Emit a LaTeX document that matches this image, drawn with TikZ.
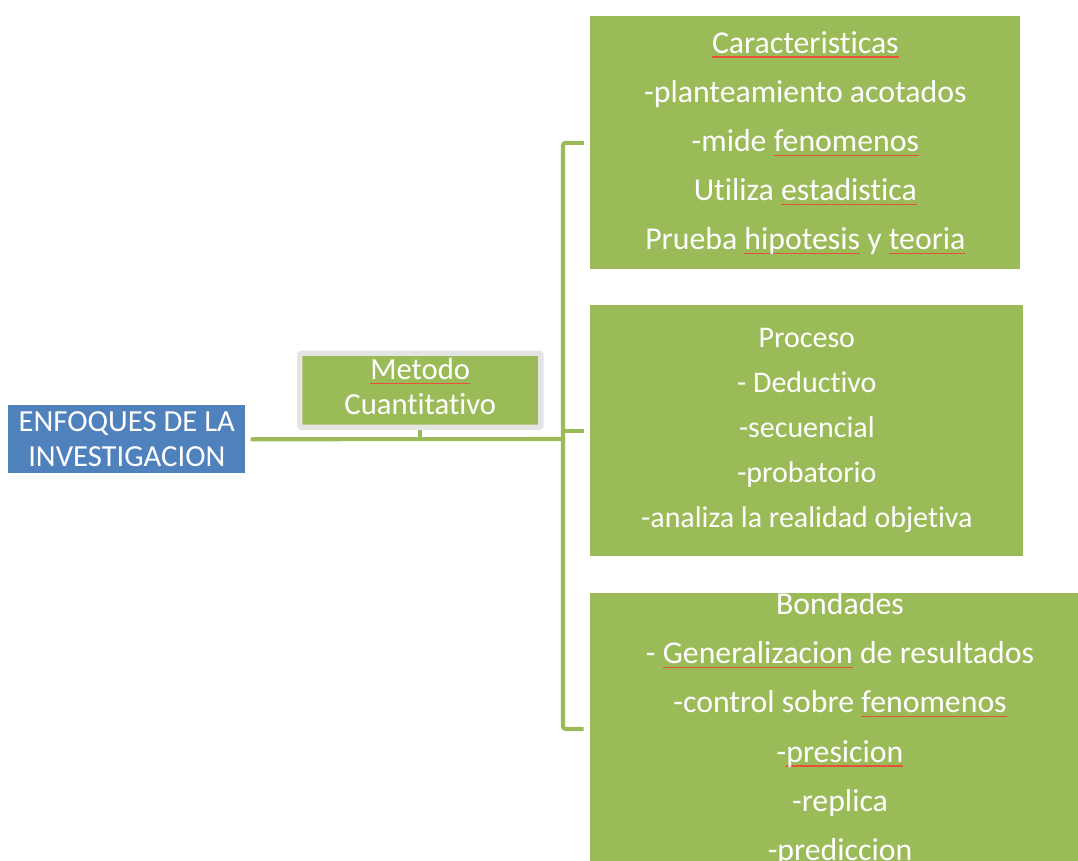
\documentclass[tikz,border=0pt]{standalone}
\usepackage{fontspec}
\setmainfont{Carlito}[Ligatures=NoCommon]
\usepackage{tikz}
\usetikzlibrary{calc,positioning}
\usepackage{xcolor}
\definecolor{leaf}{HTML}{9BBB59}
\definecolor{sky}{HTML}{4F81BD}
\definecolor{frame}{HTML}{E4E4E4}
\definecolor{typored}{HTML}{E8503A}
\newlength{\typolen}
\newcommand{\typo}[1]{\settowidth{\typolen}{#1}\rlap{\textcolor{typored}{\rule[-0.3ex]{\typolen}{0.8pt}}}#1}

\begin{document}
\begin{tikzpicture}[
  x=0.025cm, y=-0.025cm,
  rootnode/.style={
    rectangle,
    fill=sky,
    inner sep=0pt,
    minimum width=5.925cm,
    minimum height=1.7cm,
    align=center,
    font=\fontsize{21.8}{24.9}\selectfont\color{white}
  },
  midnode/.style={
    rectangle,
    fill=leaf,
    draw=frame,
    line width=3.9pt,
    rounded corners=1pt,
    inner sep=0pt,
    minimum width=6.025cm,
    minimum height=1.85cm,
    text depth=0.2cm,
    align=center,
    font=\fontsize{21.8}{24.9}\selectfont\color{white}
  },
  leafnode/.style={
    rectangle,
    fill=leaf,
    inner sep=0pt,
    align=center,
    font=\fontsize{22.6}{34.9}\selectfont\color{white}
  },
  linkline/.style={
    leaf,
    line width=2.9pt
  }
  ]
  \useasboundingbox (0,0) rectangle (1078,861);

  % root and method
  \node[anchor=north west, rootnode] (enfoque) at (8,405) {ENFOQUES DE LA\\INVESTIGACION};
  \node[anchor=north west, midnode] (metodo) at (297,350.5) {\typo{Metodo}\\Cuantitativo};

  % leaves
  \begin{scope}
    \node[anchor=north west, leafnode, minimum width=10.75cm, minimum height=6.325cm] (carac) at (590,16)
      {\typo{Caracteristicas}\\-planteamiento acotados\\-mide \typo{fenomenos}\\Utiliza \typo{estadistica}\\Prueba \typo{hipotesis} y \typo{teoria}};
    \node[anchor=north west, leafnode, minimum width=10.825cm, minimum height=6.275cm,
      font=\fontsize{21.3}{32}\selectfont\color{white}] (proceso) at (590,305)
      {Proceso\\- Deductivo\\-secuencial\\-probatorio\\-analiza la realidad objetiva};
    \node[leafnode, minimum width=12.5cm, minimum height=6.7cm] (bondades) at (840,729)
      {Bondades\\- \typo{Generalizacion} de resultados\\-control sobre \typo{fenomenos}\\-\typo{presicion}\\-replica\\-\typo{prediccion}};
  \end{scope}

  % connectors
  \coordinate (brk) at (563,439);
  \draw[linkline, shorten <=3.5pt] (enfoque.east) -- (brk);
  \draw[linkline] (metodo.south) -- (metodo.south |- brk);
  \draw[linkline, rounded corners=2pt, shorten <=4.3pt, shorten >=4.3pt] (carac.west) -| (brk) |- (bondades.west);
  \draw[linkline, shorten >=4.3pt] (brk |- proceso.west) -- (proceso.west);

\end{tikzpicture}
\end{document}
